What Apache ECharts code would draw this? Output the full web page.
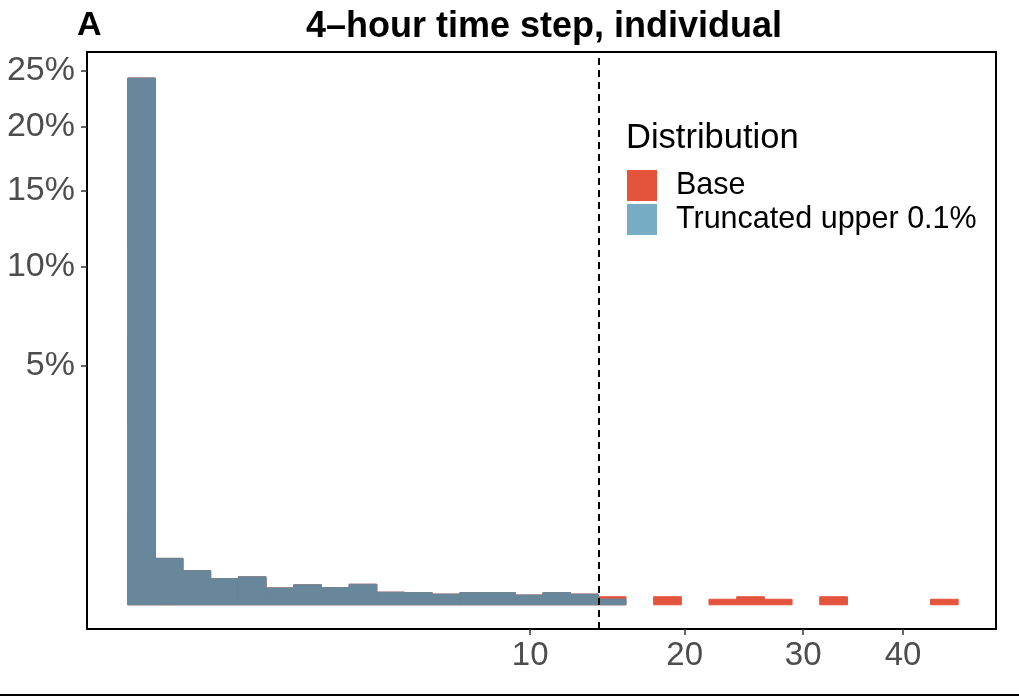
<!DOCTYPE html>
<html>
<head>
<meta charset="utf-8">
<title>4-hour time step, individual</title>
<script src="https://cdn.jsdelivr.net/npm/echarts@6/dist/echarts.min.js"></script>
<style>
  html, body { margin: 0; padding: 0; background: #fff; }
  #main { width: 1019px; height: 697px; }
</style>
</head>
<body>
<div id="main"></div>
<script>
// 直方图的数据（百分比），横轴和纵轴都是平方根刻度
var seriesNames = ['Base', 'Truncated upper 0.1%'];
// 每个分箱的高度（%），从第一个分箱开始
var basePct = [24.31, 0.189, 0.102, 0.060, 0.069, 0.025, 0.035, 0.026, 0.037, 0.014,
               0.013, 0.010, 0.013, 0.013, 0.0084, 0.013, 0.010, 0.0057, 0, 0.0057,
               0, 0.0027, 0.0057, 0.0027, 0, 0.0057, 0, 0, 0, 0.0027];
var truncatedPct = [24.31, 0.189, 0.102, 0.060, 0.069, 0.025, 0.035, 0.026, 0.037, 0.014,
                    0.013, 0.010, 0.013, 0.013, 0.0084, 0.013, 0.010, 0.0029];
// 分箱在平方根尺度上的起点和宽度
var binStartSqrt = -0.252;
var binWidthSqrt = 0.2348;
// 刻度
var xTicks = [10, 20, 30, 40];
var yTicks = [5, 10, 15, 20, 25];
var cutoff = 14;

(function(dom){
    var app = {
        init: function(){
            this.chart = echarts.init(dom.getElementById('main'));
            this.chart.setOption(this.buildOption());
        },
        //把百分比转换成 [左边界, 右边界, sqrt(高度)]
        toBins: function(arr){
            var out = [];
            for (var i = 0; i < arr.length; i++) {
                var x0 = binStartSqrt + i * binWidthSqrt;
                out.push([x0, x0 + binWidthSqrt, Math.sqrt(arr[i])]);
            }
            return out;
        },
        renderBar: function(fill){
            return function(params, api){
                var h = api.value(2);
                if (!h) return null;
                var p0 = api.coord([api.value(0), 0]);
                var p1 = api.coord([api.value(1), h]);
                return {
                    type: 'rect',
                    shape: { x: p0[0], y: p1[1], width: p1[0] - p0[0], height: p0[1] - p1[1] },
                    style: { fill: fill, stroke: fill, lineWidth: 1 }
                };
            };
        },
        buildOption: function(){
            var font = 'Liberation Sans, Arial, sans-serif';
            return {
                animation: false,
                textStyle: { fontFamily: font },
                title: [
                    { text: '4\u2013hour time step, individual', left: 539, top: 4, textAlign: 'center',
                      textStyle: { fontSize: 36, fontWeight: 'bold', color: '#000', fontFamily: font } },
                    { text: 'A', left: 72, top: 4,
                      textStyle: { fontSize: 34, fontWeight: 'bold', color: '#000', fontFamily: font } },
                    { text: 'Distribution', left: 621, top: 116,
                      textStyle: { fontSize: 34.5, fontWeight: 'normal', color: '#000', fontFamily: font } }
                ],
                legend: {
                    orient: 'vertical',
                    left: 627,
                    top: 170,
                    padding: 0,
                    itemWidth: 30,
                    itemHeight: 31,
                    itemGap: 3,
                    icon: 'rect',
                    data: seriesNames,
                    textStyle: { fontSize: 30.5, color: '#000', padding: [2, 0, 0, 14] },
                    selectedMode: false
                },
                grid: {
                    left: 87, right: 23, top: 52, bottom: 68,
                    show: true, borderColor: '#000', borderWidth: 2
                },
                xAxis: {
                    type: 'value',
                    min: -0.597, max: 7.113,
                    axisLine: { show: true, onZero: false, lineStyle: { color: '#000', width: 2 } },
                    axisTick: { show: true, length: 6, customValues: xTicks.map(Math.sqrt),
                                lineStyle: { color: '#333', width: 1.5 } },
                    axisLabel: { customValues: xTicks.map(Math.sqrt), fontSize: 33, color: '#4d4d4d', margin: 10,
                                 formatter: function(v){ return Math.round(v * v); } },
                    splitLine: { show: false }
                },
                yAxis: {
                    type: 'value',
                    min: -0.2265, max: 5.174,
                    axisLine: { show: true, onZero: false, lineStyle: { color: '#000', width: 2 } },
                    axisTick: { show: true, length: 6, customValues: yTicks.map(Math.sqrt),
                                lineStyle: { color: '#333', width: 1.5 } },
                    axisLabel: { customValues: yTicks.map(Math.sqrt), fontSize: 34, color: '#4d4d4d', margin: 12,
                                 formatter: function(v){ return Math.round(v * v) + '%'; } },
                    splitLine: { show: false }
                },
                series: [
                    {
                        name: seriesNames[0],
                        type: 'custom',
                        itemStyle: { color: '#e4543c' },
                        renderItem: this.renderBar('#e4543c'),
                        encode: { x: [0, 1], y: 2 },
                        data: this.toBins(basePct)
                    },
                    {
                        name: seriesNames[1],
                        type: 'custom',
                        itemStyle: { color: '#77adc4' },
                        renderItem: this.renderBar('#68879a'),
                        encode: { x: [0, 1], y: 2 },
                        data: this.toBins(truncatedPct),
                        markLine: {
                            silent: true,
                            symbol: 'none',
                            label: { show: false },
                            lineStyle: { color: '#000', type: [7, 5], width: 2 },
                            data: [{ xAxis: Math.sqrt(cutoff) }]
                        }
                    }
                ],
                graphic: [
                    { type: 'line', shape: { x1: 0, y1: 695, x2: 1019, y2: 695 },
                      style: { stroke: '#000', lineWidth: 2 } }
                ]
            };
        }
    };
    app.init();
})(document);
</script>
</body>
</html>
